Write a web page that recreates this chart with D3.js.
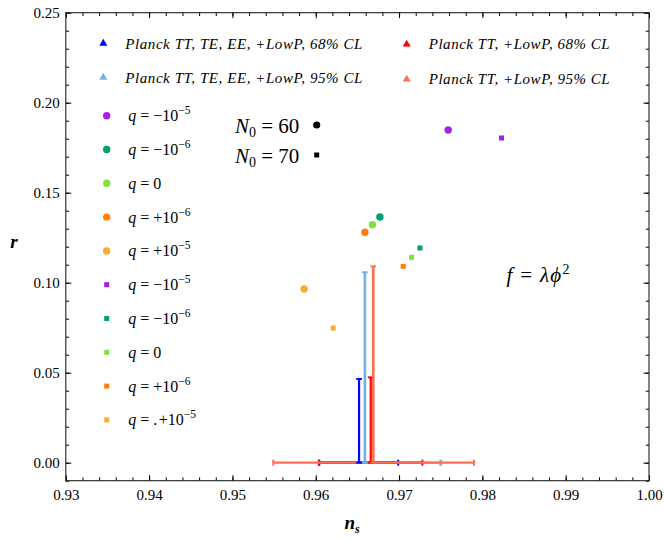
<!DOCTYPE html>
<html>
<head>
<meta charset="utf-8">
<script src="https://cdn.jsdelivr.net/npm/d3@7"></script>
<style>
  body { margin: 0; background: #fff; }
  svg, text, tspan { font-family: "Liberation Serif", "Times New Roman", serif; }
  text { fill: #000; }
  .it { font-style: italic; }
</style>
</head>
<body>
<svg id="chart" width="664" height="540" font-family="Liberation Serif, serif"></svg>
<script>
// model points, N0 = 60 (circles) and N0 = 70 (squares)
var qSign = ["\u2212", "\u2212", "", "+", "+"];
var qExp = ["\u22125", "\u22126", "", "\u22126", "\u22125"];
var qColors = ["#a51fe9", "#00a070", "#7ee23a", "#ff7f0a", "#f8ac30"];
var circleNs = [0.9759, 0.9677, 0.9668, 0.9659, 0.9586];
var circleR = [0.1848, 0.1365, 0.1322, 0.1280, 0.0965];
var squareNs = [0.9823, 0.9725, 0.9715, 0.9705, 0.9621];
var squareR = [0.1804, 0.1193, 0.1141, 0.1091, 0.0748];

// Planck constraints: n_s range at r = 0 and upper bound on r
var planckNames = ["Planck TT, TE, EE, +LowP,  68% CL", "Planck TT, TE, EE, +LowP,  95% CL",
                   "Planck TT, +LowP,  68% CL", "Planck TT, +LowP,  95% CL"];
var planckColors = ["#0000ff", "#72b3e3", "#ff0000", "#ff6f55"];
var planckNs = [0.9652, 0.9659, 0.9666, 0.9669];
var planckNsLo = [0.9604, 0.9604, 0.9604, 0.9549];
var planckNsHi = [0.9699, 0.9750, 0.9728, 0.9790];
var planckRMax = [0.0465, 0.1058, 0.0474, 0.1091];

var xMajor = [0.93, 0.94, 0.95, 0.96, 0.97, 0.98, 0.99, 1.00];
var yMajor = [0.00, 0.05, 0.10, 0.15, 0.20, 0.25];

var svg = d3.select("#chart");
var L = 65.8, R = 649, T = 12.7, B = 480.7;

var x = d3.scaleLinear().domain([0.93, 1.0]).range([L, R]);
var y = d3.scaleLinear().domain([-0.01, 0.25]).range([B, T]);

var xMinor = d3.range(0, 36).map(function(i){ return 0.93 + i * 0.002; });
var yMinor = d3.range(0, 27).map(function(i){ return -0.01 + i * 0.01; });
var fmt = d3.format(".2f");

// frame ticks, all four sides, pointing inward
var axes = [
  [d3.axisBottom(x), "translate(0," + B + ")", xMajor, xMinor, 9],
  [d3.axisTop(x), "translate(0," + T + ")", xMajor, xMinor, 0],
  [d3.axisLeft(y), "translate(" + L + ",0)", yMajor, yMinor, 6],
  [d3.axisRight(y), "translate(" + R + ",0)", yMajor, yMinor, 0]
];
axes.forEach(function(a){
  var g = svg.append("g").attr("transform", a[1]);
  g.call(a[0].tickValues(a[3]).tickSize(-3.3).tickFormat(""));
  var g2 = svg.append("g").attr("transform", a[1]);
  g2.call(a[0].tickValues(a[2]).tickSize(-5.5).tickPadding(a[4])
    .tickFormat(a[4] ? fmt : ""));
  [g, g2].forEach(function(s){
    s.attr("font-family", "Liberation Serif, serif");
    s.select(".domain").remove();
    s.selectAll("line").attr("stroke", "#000").attr("stroke-width", 1);
    s.selectAll("text").style("font-size", "15px").attr("fill", "#000");
  });
});

svg.append("rect")
  .attr("x", L).attr("y", T).attr("width", R - L).attr("height", B - T)
  .attr("fill", "none").attr("stroke", "#222").attr("stroke-width", 1.1);

// axis labels
svg.append("text").attr("class", "it").attr("x", 14).attr("y", 248)
  .attr("text-anchor", "middle").style("font-size", "19px").style("font-weight", "bold").text("r");
var xl = svg.append("text").attr("class", "it").attr("x", 352).attr("y", 529)
  .attr("text-anchor", "middle").style("font-size", "19px").style("font-weight", "bold");
xl.append("tspan").text("n");
xl.append("tspan").attr("dy", 4).style("font-size", "12px").text("s");

// error bars: horizontal first (light blue lowest), then the vertical ones
var plot = svg.append("g");
[1, 0, 2, 3].forEach(function(i){
  var c = planckColors[i];
  var x0 = x(planckNsLo[i]), x1 = x(planckNsHi[i]), y0 = y(0);
  plot.append("line").attr("x1", x0).attr("x2", x1).attr("y1", y0).attr("y2", y0)
    .attr("stroke", c).attr("stroke-width", 2.2);
  [x0, x1].forEach(function(xx){
    plot.append("line").attr("x1", xx).attr("x2", xx).attr("y1", y0 - 3).attr("y2", y0 + 3)
      .attr("stroke", c).attr("stroke-width", i === 1 ? 3 : 2);
  });
});
planckNs.forEach(function(ns, i){
  var c = planckColors[i];
  var xx = x(ns), yt = y(planckRMax[i]), y0 = y(0);
  plot.append("line").attr("x1", xx).attr("x2", xx).attr("y1", y0).attr("y2", yt)
    .attr("stroke", c).attr("stroke-width", i % 2 ? 2.7 : 2.2);
  [yt, y0].forEach(function(yy){
    plot.append("line").attr("x1", xx - 2.8).attr("x2", xx + 2.8).attr("y1", yy).attr("y2", yy)
      .attr("stroke", c).attr("stroke-width", 2);
  });
});

// model points
plot.selectAll(".pc").data(circleNs).enter().append("circle")
  .attr("cx", function(d){ return x(d); })
  .attr("cy", function(d, i){ return y(circleR[i]); })
  .attr("r", 3.7)
  .attr("fill", function(d, i){ return qColors[i]; });
plot.selectAll(".ps").data(squareNs).enter().append("rect")
  .attr("x", function(d){ return x(d) - 2.5; })
  .attr("y", function(d, i){ return y(squareR[i]) - 2.5; })
  .attr("width", 5).attr("height", 5)
  .attr("fill", function(d, i){ return qColors[i]; });

// legend
var tri = d3.symbol().type(d3.symbolTriangle).size(28);
var legPos = [[103.3, 43.5], [103.3, 77.5], [406.7, 44.3], [406.7, 79.3]];
var legWidth = [237, 237, 181, 181];
planckNames.forEach(function(name, i){
  var p = legPos[i];
  svg.append("path").attr("d", tri).attr("transform", "translate(" + p[0] + "," + p[1] + ")")
    .attr("fill", planckColors[i]);
  svg.append("text").attr("class", "it").attr("x", p[0] + 22).attr("y", p[1] + 5)
    .attr("textLength", legWidth[i]).attr("lengthAdjust", "spacing")
    .style("font-size", "15px").text(name);
});

function qLabel(g, i, yy, stray){
  var t = g.append("text").attr("x", 128.3).attr("y", yy + 5.5).style("font-size", "16px");
  t.append("tspan").attr("class", "it").text("q");
  t.append("tspan").text(stray ? " = .\u200a" : " = ");
  if (qExp[i] === "") {
    t.append("tspan").text("0");
  } else {
    t.append("tspan").text(qSign[i] + "10");
    t.append("tspan").attr("dy", -7).style("font-size", "11.5px").text(qExp[i]);
  }
}
var legY0 = 115.7, legStep = 33.8;
qColors.forEach(function(c, i){
  var yy = legY0 + i * legStep;
  svg.append("circle").attr("cx", 106.7).attr("cy", yy).attr("r", 3.7).attr("fill", c);
  qLabel(svg, i, yy, false);
});
qColors.forEach(function(c, i){
  var yy = legY0 + (i + 5) * legStep;
  svg.append("rect").attr("x", 104.2).attr("y", yy - 2.5).attr("width", 5).attr("height", 5)
    .attr("fill", c);
  qLabel(svg, i, yy, i === 4);
});

// N0 key
[["60", 125], ["70", 155]].forEach(function(n, i){
  var t = svg.append("text").attr("x", 235).attr("y", n[1] + 7.5).style("font-size", "21px");
  t.append("tspan").attr("class", "it").text("N");
  t.append("tspan").attr("dy", 4).style("font-size", "14px").text("0");
  t.append("tspan").attr("dy", -4).text(" = " + n[0]);
  if (i === 0) {
    svg.append("circle").attr("cx", 316.7).attr("cy", n[1]).attr("r", 3.6).attr("fill", "#000");
  } else {
    svg.append("rect").attr("x", 314.2).attr("y", n[1] - 2.5).attr("width", 5).attr("height", 5)
      .attr("fill", "#000");
  }
});

// potential
var ft = svg.append("text").attr("x", 506.5).attr("y", 282).style("font-size", "21px")
  .attr("textLength", 63).attr("lengthAdjust", "spacing");
ft.append("tspan").attr("class", "it").text("f");
ft.append("tspan").text(" = ");
ft.append("tspan").attr("class", "it").text("\u03bb\u03d5");
ft.append("tspan").attr("dy", -8).style("font-size", "14px").text("2");
</script>
</body>
</html>
